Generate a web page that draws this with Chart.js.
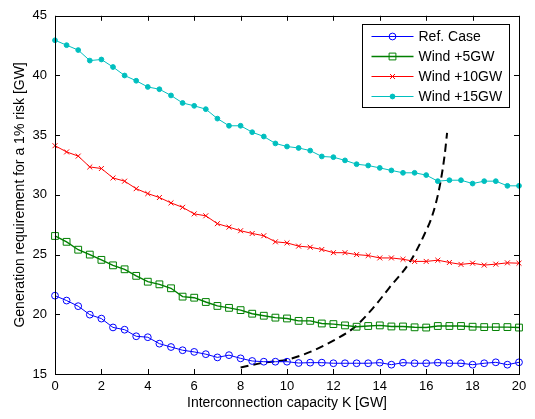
<!DOCTYPE html>
<html>
<head>
<meta charset="utf-8">
<script src="https://cdn.jsdelivr.net/npm/chart.js@4.4.1/dist/chart.umd.min.js"></script>
<style>
  html, body { margin: 0; padding: 0; background: #fff; }
</style>
</head>
<body>
<canvas id="requisito" width="535" height="419"></canvas>
<script>
// capacidade de interconexão K [GW]
const capacidade = [0, 0.5, 1, 1.5, 2, 2.5, 3, 3.5, 4, 4.5, 5, 5.5, 6, 6.5, 7, 7.5, 8, 8.5, 9, 9.5,
  10, 10.5, 11, 11.5, 12, 12.5, 13, 13.5, 14, 14.5, 15, 15.5, 16, 16.5, 17, 17.5, 18, 18.5, 19, 19.5, 20];

const refCase = [21.56, 21.15, 20.68, 19.97, 19.64, 18.90, 18.71, 18.16, 18.08, 17.54, 17.26, 16.99, 16.85, 16.66, 16.39, 16.58, 16.31, 16.09, 16.03, 16.03,
  16.03, 15.92, 15.95, 15.95, 15.90, 15.90, 15.90, 15.90, 15.95, 15.78, 15.95, 15.90, 15.90, 15.95, 15.90, 15.90, 15.78, 15.90, 15.98, 15.78, 15.98];
const wind5 = [26.56, 26.07, 25.41, 25.00, 24.56, 24.10, 23.77, 23.22, 22.73, 22.51, 22.18, 21.48, 21.39, 21.03, 20.70, 20.54, 20.35, 20.05, 19.88, 19.72,
  19.65, 19.45, 19.45, 19.23, 19.18, 19.07, 18.96, 19.02, 19.07, 18.98, 18.98, 18.91, 18.89, 19.02, 19.02, 19.02, 18.96, 18.93, 18.93, 18.93, 18.89];
const wind10 = [34.12, 33.60, 33.25, 32.34, 32.21, 31.42, 31.15, 30.52, 30.11, 29.78, 29.33, 28.96, 28.41, 28.25, 27.59, 27.30, 27.00, 26.77, 26.58, 26.07,
  25.98, 25.71, 25.62, 25.43, 25.16, 25.16, 25.00, 24.92, 24.72, 24.72, 24.61, 24.43, 24.43, 24.53, 24.34, 24.18, 24.28, 24.12, 24.20, 24.31, 24.28];
const wind15 = [42.95, 42.54, 42.13, 41.25, 41.34, 40.71, 40.00, 39.56, 39.04, 38.85, 38.33, 37.70, 37.46, 37.18, 36.39, 35.79, 35.79, 35.25, 34.89, 34.31,
  34.05, 33.93, 33.71, 33.22, 33.16, 32.89, 32.57, 32.46, 32.26, 32.05, 31.85, 31.85, 31.66, 31.15, 31.23, 31.23, 30.95, 31.15, 31.15, 30.76, 30.76];

// curva tracejada (limite)
const limiteX = [8.0, 9.0, 10.0, 11.0, 12.0, 12.9, 13.7, 14.4, 15.3, 15.9, 16.3, 16.6, 16.8, 16.9];
const limiteY = [15.55, 15.95, 16.2, 16.85, 17.8, 18.9, 20.5, 22.2, 24.4, 26.6, 28.5, 30.9, 33.4, 35.2];

const nomes = ["Ref. Case", "Wind +5GW", "Wind +10GW", "Wind +15GW"];
const cores = ["#0000ff", "#008000", "#ff0000", "#00bfbf"];

function pares(xs, ys) {
  return xs.map((x, i) => ({ x: x, y: ys[i] }));
}

// moldura, ticks para dentro e legenda no estilo MATLAB
const moldura = {
  id: "moldura",
  afterDatasetsDraw(chart) {
    const ctx = chart.ctx;
    const a = chart.chartArea;
    const sx = chart.scales.x, sy = chart.scales.y;
    ctx.save();
    ctx.strokeStyle = "#000";
    ctx.lineWidth = 1;
    ctx.beginPath();
    sx.ticks.forEach(t => {
      const p = Math.round(sx.getPixelForValue(t.value)) + 0.5;
      ctx.moveTo(p, a.bottom); ctx.lineTo(p, a.bottom - 5);
      ctx.moveTo(p, a.top); ctx.lineTo(p, a.top + 5);
    });
    sy.ticks.forEach(t => {
      const p = Math.round(sy.getPixelForValue(t.value)) + 0.5;
      ctx.moveTo(a.left, p); ctx.lineTo(a.left + 5, p);
      ctx.moveTo(a.right, p); ctx.lineTo(a.right - 5, p);
    });
    ctx.stroke();
    ctx.strokeRect(Math.round(a.left) + 0.5, Math.round(a.top) + 0.5,
      Math.round(a.right - a.left), Math.round(a.bottom - a.top));

    // legenda
    const bx = Math.round(a.right) - 157 + 0.5, by = Math.round(a.top) + 8 + 0.5;
    const bw = 147, bh = 83;
    ctx.fillStyle = "#fff";
    ctx.fillRect(bx, by, bw, bh);
    ctx.strokeRect(bx, by, bw, bh);
    ctx.font = "14px 'Liberation Sans', Arial, sans-serif";
    ctx.textBaseline = "middle";
    for (let i = 0; i < 4; i++) {
      const ds = chart.data.datasets[i];
      const yy = by + 12 + i * 20;
      ctx.strokeStyle = ds.borderColor;
      ctx.lineWidth = ds.borderWidth;
      ctx.beginPath();
      ctx.moveTo(bx + 9, yy); ctx.lineTo(bx + 51, yy);
      ctx.stroke();
      const opt = {
        pointStyle: ds.pointStyle, radius: ds.pointRadius, rotation: 0,
        borderWidth: 1
      };
      ctx.fillStyle = ds.pointBackgroundColor;
      ctx.strokeStyle = ds.pointBorderColor;
      ctx.lineWidth = 1;
      Chart.helpers.drawPoint(ctx, opt, bx + 30, yy);
      ctx.fillStyle = "#000";
      ctx.fillText(nomes[i], bx + 56, yy + 1);
    }
    ctx.restore();
  }
};

function serie(i, valores, estilo, raio, preenchido) {
  return {
    label: nomes[i],
    data: pares(capacidade, valores),
    borderColor: cores[i],
    borderWidth: i === 1 ? 1.4 : 1,
    pointStyle: estilo,
    pointRadius: raio,
    pointHoverRadius: raio,
    pointBorderWidth: 1,
    pointBorderColor: cores[i],
    pointBackgroundColor: preenchido ? cores[i] : "rgba(0,0,0,0)",
    tension: 0,
    clip: false
  };
}

new Chart("requisito", {
  type: "line",
  data: {
    datasets: [
      serie(0, refCase, "circle", 3.4, false),
      serie(1, wind5, "rect", 4.8, false),
      serie(2, wind10, "crossRot", 3.5, false),
      serie(3, wind15, "circle", 2.4, true),
      {
        label: "limite",
        data: pares(limiteX, limiteY),
        borderColor: "#000",
        borderWidth: 2,
        borderDash: [8, 5],
        pointRadius: 0,
        cubicInterpolationMode: "monotone",
        clip: false
      }
    ]
  },
  options: {
    responsive: false,
    animation: false,
    layout: { padding: { left: 0, right: 16, top: 8, bottom: 0 } },
    plugins: {
      legend: { display: false },
      title: { display: false },
      tooltip: { enabled: false }
    },
    scales: {
      x: {
        type: "linear",
        min: 0, max: 20,
        ticks: { stepSize: 2, padding: 5, color: "#000",
          font: { family: "'Liberation Sans', Arial", size: 13 } },
        grid: { display: false, drawTicks: false },
        border: { display: false },
        title: { display: true, text: "Interconnection capacity K [GW]", color: "#000",
          font: { family: "'Liberation Sans', Arial", size: 14 },
          padding: { top: 0, bottom: 7 } },
        afterFit: s => { s.height = 45; }
      },
      y: {
        min: 15, max: 45,
        ticks: { stepSize: 5, padding: 8, color: "#000",
          font: { family: "'Liberation Sans', Arial", size: 13 } },
        grid: { display: false, drawTicks: false },
        border: { display: false },
        title: { display: true, text: "Generation requirement for a 1% risk [GW]", color: "#000",
          font: { family: "'Liberation Sans', Arial", size: 14 },
          padding: { top: 12, bottom: 0 } },
        afterFit: s => { s.width = 55; }
      }
    }
  },
  plugins: [moldura]
});
</script>
</body>
</html>
